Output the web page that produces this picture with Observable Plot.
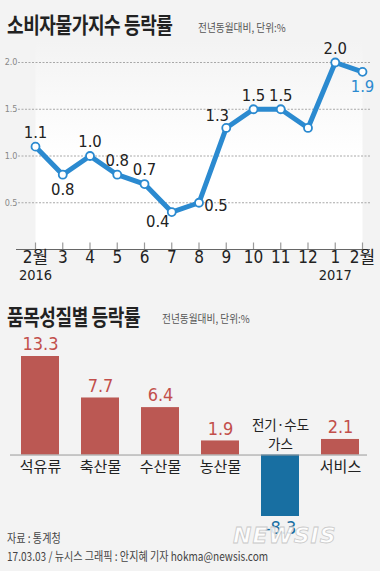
<!DOCTYPE html>
<html>
<head>
<meta charset="utf-8">
<script src="https://cdn.jsdelivr.net/npm/d3@7"></script>
<script src="https://cdn.jsdelivr.net/npm/@observablehq/plot@0.6"></script>
<style>
  html, body { margin: 0; padding: 0; background: #f3f3f3; }
  #wrap { position: relative; width: 380px; height: 571px; background: #f3f3f3; overflow: hidden;
          font-family: "Noto Sans CJK KR", sans-serif; color: #222; }
  .title { position: absolute; left: 7px; font-weight: 700; font-size: 22px; line-height: 22px;
           transform: scaleX(0.82); transform-origin: left center; white-space: nowrap; letter-spacing: -0.5px; }
  .sub { position: absolute; font-size: 11px; line-height: 11px; color: #555; white-space: nowrap;
         transform: scaleX(0.88); transform-origin: left center; }
  .foot { position: absolute; left: 7px; font-size: 12px; line-height: 12px; color: #444; white-space: nowrap;
          transform: scaleX(0.84); transform-origin: left center; }
  .chart { position: absolute; left: 0; }
  #wm { position: absolute; left: 233px; top: 523px; font: italic 900 22px "DejaVu Sans", sans-serif;
        color: rgba(255,255,255,0.85); -webkit-text-stroke: 0.8px #c8c8c8; letter-spacing: 1px; white-space: nowrap; }
</style>
</head>
<body>
<div id="wrap">
  <div class="title" style="top:12px">소비자물가지수 등락률</div>
  <div class="sub" style="left:198px; top:22px">전년동월대비, 단위:%</div>
  <div id="line" class="chart" style="top:40px"></div>
  <div class="title" style="top:304px">품목성질별 등락률</div>
  <div class="sub" style="left:162px; top:313px">전년동월대비, 단위:%</div>
  <div id="bars" class="chart" style="top:330px"></div>
  <div class="foot" style="top:532px">자료 : 통계청</div>
  <div class="foot" style="top:550px">17.03.03 / 뉴시스 그래픽 : 안지혜 기자 hokma@newsis.com</div>
  <div id="wm">NEWSIS</div>
</div>
<script>
// ---- Data: consumer price index change (YoY, %) ----
const months = ["2월", "3", "4", "5", "6", "7", "8", "9", "10", "11", "12", "1", "2월"];
const yearIdx = [0, 11];
const yearText = ["2016", "2017"];
const cpi = [1.1, 0.8, 1.0, 0.8, 0.7, 0.4, 0.5, 1.3, 1.5, 1.5, 1.3, 2.0, 1.9];
const yTicks = [0.5, 1.0, 1.5, 2.0];
// label placement per point (style), "none" = not labeled in the original
const labelPos = ["n", "s", "n", "n", "n", "sw", "e", "nw", "n", "n", "none", "n", "s"];

// ---- Data: by item category ----
const cats = ["석유류", "축산물", "수산물", "농산물", "전기·수도\n가스", "서비스"];
const vals = [13.3, 7.7, 6.4, 1.9, -8.3, 2.1];

const FONT = "'Liberation Sans Narrow', 'DejaVu Sans Condensed', 'Noto Sans CJK KR', sans-serif";
const KFONT = "'Noto Sans CJK KR', sans-serif";
const BLUE = "#2b8ad0";
const RED = "#bb5853";
const RED_T = "#c24f4b";
const DBLUE = "#186fa2";

const offsets = { n: [0, -14], s: [0, 15], sw: [-14, 10], e: [17, 3], nw: [-9, -12] };
const idx = cpi.map((d, i) => i);

// small upward tick symbol for the month axis
const upTick = { draw(ctx) { ctx.moveTo(0, 0); ctx.lineTo(0, -7); } };

const labelMarks = Object.entries(offsets).map(([k, [dx, dy]]) =>
  Plot.text(idx.filter(i => labelPos[i] === k), {
    x: i => i, y: i => cpi[i], text: i => cpi[i].toFixed(1),
    dx, dy, fontSize: 16.5,
    fill: i => (i === cpi.length - 1 ? BLUE : "#222")
  })
);

const line = Plot.plot({
  width: 380, height: 259,
  marginLeft: 35, marginRight: 18, marginTop: 22, marginBottom: 50,
  style: { background: "none", fontFamily: FONT },
  x: { type: "linear", domain: [0, 12], axis: null },
  y: { domain: [0, 2], axis: null },
  color: { type: "identity" },
  marks: [
    Plot.frame({ fill: "url(#bgGrad)", stroke: null, insetTop: -22 }),
    Plot.ruleY(yTicks, { stroke: "#a8a8a8", strokeDasharray: "2,1.5", insetLeft: -17, insetRight: -8 }),
    Plot.axisY(yTicks, { tickSize: 0, tickPadding: 18, tickFormat: d => d.toFixed(1), fontSize: 9, fill: "#888", label: null }),
    Plot.dot(idx, { x: i => i, y: 0, symbol: upTick, r: 3, fill: "none", stroke: "#9a9a9a", strokeWidth: 1.2 }),
    Plot.ruleY([0], { stroke: "#666", insetLeft: -19, insetRight: -8 }),
    Plot.text(months, { x: (d, i) => i, text: d => d, frameAnchor: "bottom", dy: 13, fontSize: 17, fill: "#222" }),
    Plot.text(yearText, { x: (d, i) => yearIdx[i], text: d => d, frameAnchor: "bottom", dy: 30, fontSize: 14.5, fill: "#222" }),
    Plot.line(idx, { x: i => i, y: i => cpi[i], stroke: BLUE, strokeWidth: 5, strokeLinejoin: "miter" }),
    Plot.dot(idx, { x: i => i, y: i => cpi[i], r: 4, fill: "white", stroke: BLUE, strokeWidth: 1.8 }),
    ...labelMarks
  ]
});
line.insertAdjacentHTML("afterbegin",
  '<defs><linearGradient id="bgGrad" x1="0" y1="0" x2="0" y2="1">' +
  '<stop offset="0" stop-color="#f3f3f3"/><stop offset="0.55" stop-color="#ffffff"/></linearGradient></defs>');
document.getElementById("line").append(line);

const bi = cats.map((d, i) => i);
const neg = bi.filter(i => vals[i] < 0);
const pos = bi.filter(i => vals[i] >= 0);
const bars = Plot.plot({
  width: 380, height: 220,
  marginLeft: 15, marginRight: 15, marginTop: 26, marginBottom: 34,
  style: { background: "none", fontFamily: FONT },
  x: { domain: cats, paddingInner: 0.3667, paddingOuter: 0.1, axis: null },
  y: { domain: [-8.3, 13.3], axis: null },
  color: { type: "identity" },
  marks: [
    Plot.barY(bi, { x: i => cats[i], y: i => vals[i], fill: i => (vals[i] < 0 ? DBLUE : RED) }),
    Plot.ruleY([0], { stroke: "#999", insetLeft: -5, insetRight: -2 }),
    Plot.text(pos, { x: i => cats[i], y: i => vals[i], text: i => vals[i].toFixed(1), dy: -12, fontSize: 18, fill: RED_T }),
    Plot.text(neg, { x: i => cats[i], y: i => vals[i], text: i => vals[i].toFixed(1), dy: 12, fontSize: 18, fill: DBLUE }),
    Plot.text(pos, { x: i => cats[i], y: 0, text: i => cats[i], dy: 12, fontSize: 15, fill: "#222", fontFamily: KFONT }),
    // negative bar: category name sits above the baseline, one mark per line
    Plot.text(neg, { x: i => cats[i], y: 0, text: i => cats[i].split("\n")[0], dy: -29, fontSize: 13.5, fill: "#222", fontFamily: KFONT }),
    Plot.text(neg, { x: i => cats[i], y: 0, text: i => cats[i].split("\n")[1], dy: -10, fontSize: 13.5, fill: "#222", fontFamily: KFONT })
  ]
});
document.getElementById("bars").append(bars);
</script>
</body>
</html>
